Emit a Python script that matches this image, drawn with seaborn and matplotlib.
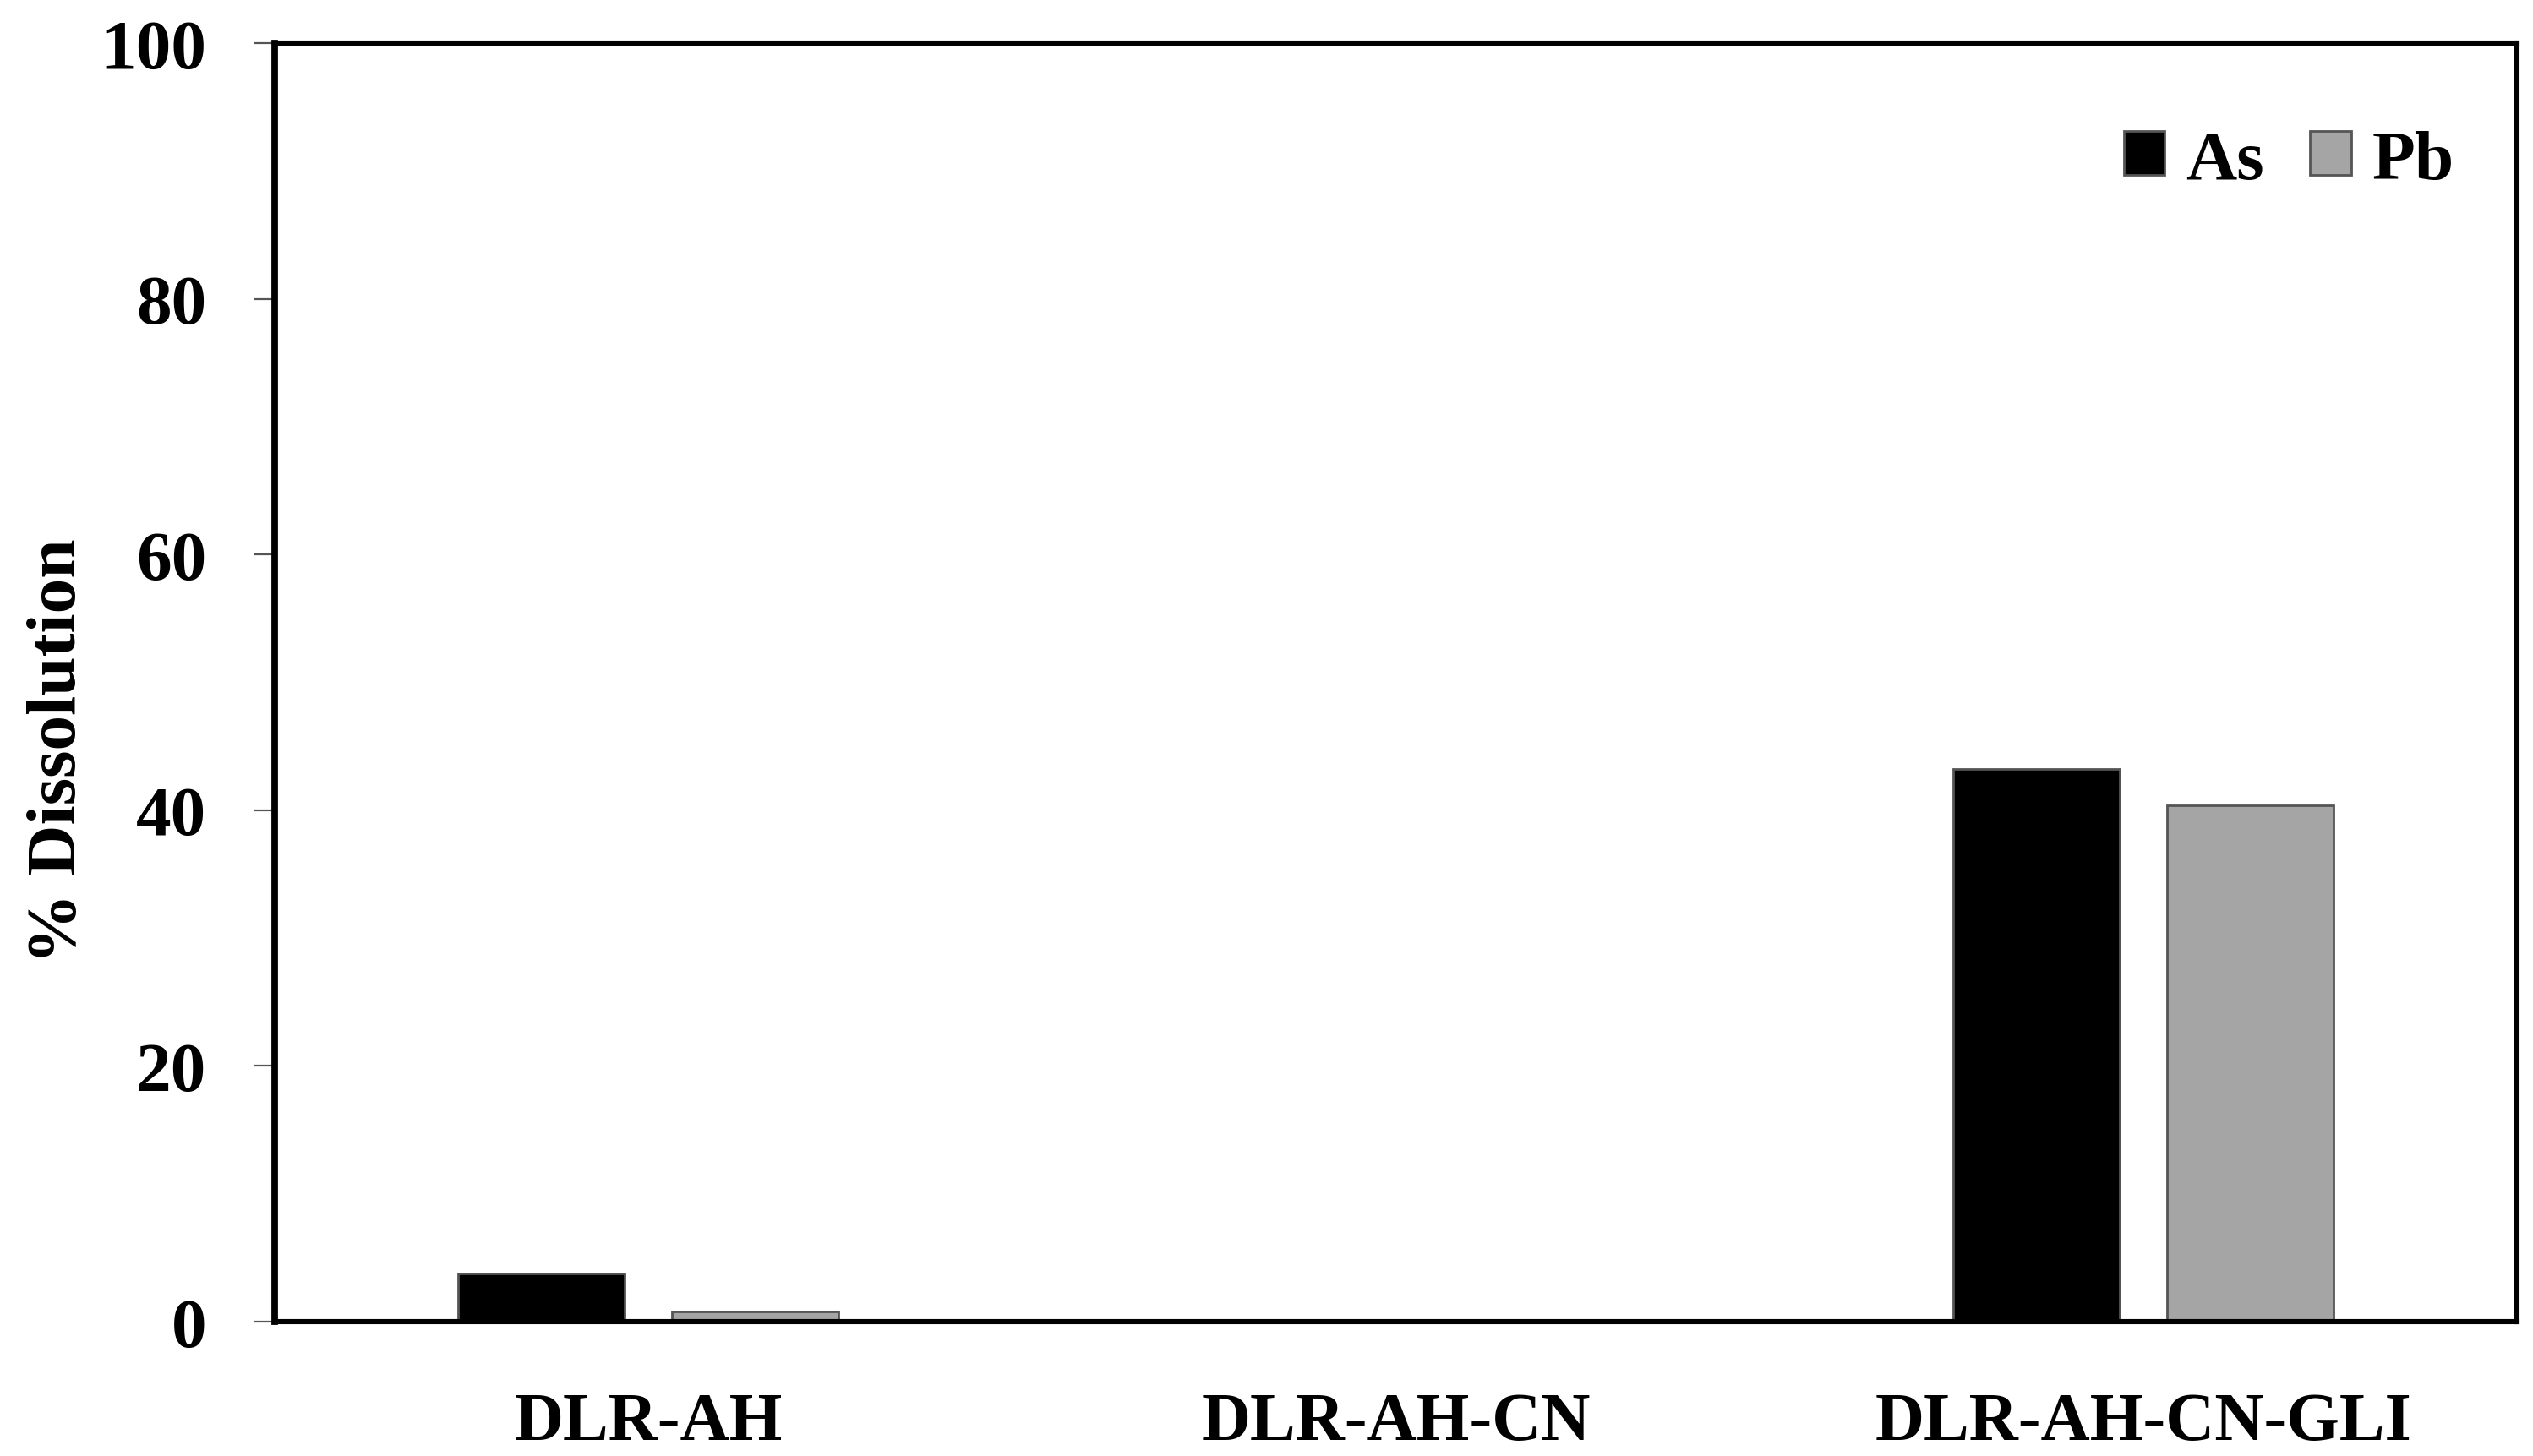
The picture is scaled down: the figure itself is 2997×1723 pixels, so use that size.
import matplotlib
matplotlib.use("Agg")
import matplotlib.pyplot as plt
import seaborn as sns
import pandas as pd

# values
samples = ["DLR-AH", "DLR-AH-CN", "DLR-AH-CN-GLI"]
as_values = [3.8, 0.0, 43.2]
pb_values = [0.8, 0.0, 40.4]
elements = ["As", "Pb"]
y_ticks = [0, 20, 40, 60, 80, 100]

df = pd.DataFrame({
    "sample": samples * 2,
    "element": ["As"] * len(samples) + ["Pb"] * len(samples),
    "value": as_values + pb_values,
})

sns.set_theme(style="white")
plt.rcParams["font.family"] = ["Liberation Serif", "DejaVu Serif"]
plt.rcParams["font.weight"] = "bold"
plt.rcParams["text.color"] = "black"
plt.rcParams["axes.labelcolor"] = "black"
plt.rcParams["xtick.color"] = "black"
plt.rcParams["ytick.color"] = "black"

fig = plt.figure(figsize=(14.985, 8.62), dpi=200)
ax = fig.add_axes([0.1084, 0.0922, 0.8853, 0.8776])

sns.barplot(data=df, x="sample", y="value", hue="element", hue_order=elements,
            order=samples, palette={"As": "black", "Pb": "#A5A5A5"},
            width=0.572, gap=0.22, edgecolor="#555555", linewidth=1.0,
            errorbar=None, ax=ax)

ax.set_xlim(-0.5, 2.5)
ax.set_ylim(0, 100)
ax.set_yticks(y_ticks)

for s in ax.spines.values():
    s.set_visible(True)
    s.set_color("black")
    s.set_linewidth(2.2)
ax.spines["left"].set_linewidth(2.8)

ax.tick_params(axis="y", direction="out", length=9, width=0.8, color="#555555",
               pad=20, labelsize=30, labelcolor="black", left=True)
ax.tick_params(axis="x", length=0, pad=30, labelsize=29, labelcolor="black")
for lab in ax.get_xticklabels() + ax.get_yticklabels():
    lab.set_fontweight("bold")

ax.set_xlabel("")
ax.set_ylabel("% Dissolution", fontsize=30, fontweight="bold", color="black")
ax.yaxis.set_label_coords(-0.082, 0.447)

handles, labels = ax.get_legend_handles_labels()
ax.legend(handles, labels, loc="center right", bbox_to_anchor=(0.972, 0.9075),
          ncol=2, frameon=False, handlelength=0.58, handleheight=0.58,
          handletextpad=0.3, columnspacing=0.65, borderpad=0, borderaxespad=0,
          prop={"weight": "bold", "size": 30})

fig.savefig("out.png", dpi=200)
